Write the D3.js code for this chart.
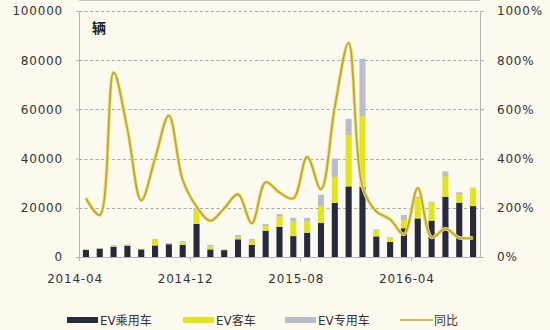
<!DOCTYPE html>
<html><head><meta charset="utf-8">
<script src="https://cdn.jsdelivr.net/npm/d3@7/dist/d3.min.js"></script>
<style>
html,body{margin:0;padding:0;background:#fcf9ef;}
svg{display:block;}
text{font-family:"DejaVu Sans",sans-serif;}
</style></head>
<body><svg id="c" width="550" height="330"></svg>
<script>
const months = ["2014-04","2014-05","2014-06","2014-07","2014-08","2014-09","2014-10","2014-11","2014-12",
"2015-01","2015-02","2015-03","2015-04","2015-05","2015-06","2015-07","2015-08","2015-09","2015-10","2015-11","2015-12",
"2016-01","2016-02","2016-03","2016-04","2016-05","2016-06","2016-07","2016-08"];
const passenger = [2900,3400,4200,4600,3100,4700,5200,4900,13500,3100,2800,7200,4900,10700,12300,8500,9900,13800,22000,28700,28500,8400,6100,11700,15700,14800,24500,22100,20700];
const bus       = [100,100,300,200,100,2300,200,1000,5700,1100,200,1000,1800,1900,4100,5900,4500,6800,10500,20800,28700,2300,1500,3300,8300,7300,8100,3500,7500];
const special   = [100,100,300,300,100,300,300,500,800,700,100,700,600,800,1100,1500,1500,4700,7500,6700,23400,500,400,2100,500,400,2200,700,0];
const yoy       = [239,171,750,520,230,400,575,313,205,147,198,255,137,304,262,238,407,275,610,870,286,185,153,92,280,80,115,78,78];
const leftTicks = [0,20000,40000,60000,80000,100000];
const rightTicks = [0,200,400,600,800,1000];
const xLabels = ["2014-04","2014-12","2015-08","2016-04"];
const seriesNames = ["EV乘用车","EV客车","EV专用车"];
const lineName = "同比";
const unitLabel = "辆";

const colors = ["#262a3a","#e2e41c","#b9bdc8"];
const lineColor = "#c2a634";

const L = 79, R = 480, T = 11, B = 257;
const svg = d3.select("#c");
const x = d3.scaleBand().domain(months).range([L,R]).paddingInner(0.56).paddingOuter(0.28);
const y = d3.scaleLinear().domain([0,100000]).range([B,T]);
const y2 = d3.scaleLinear().domain([0,1000]).range([B,T]);

// faint top frame line
svg.append("line").attr("x1",L).attr("x2",R).attr("y1",0.5).attr("y2",0.5).attr("stroke","#c8c8c8").attr("stroke-width",1);

// grid
svg.append("g").selectAll("line").data(leftTicks.slice(1)).join("line")
  .attr("x1",L).attr("x2",R+4).attr("y1",d=>Math.round(y(d))+0.5).attr("y2",d=>Math.round(y(d))+0.5)
  .attr("stroke","#a9a9a9").attr("stroke-dasharray","3,2.5").attr("stroke-width",1);

// axes
const ax = svg.append("g").attr("transform",`translate(${L},0)`).call(d3.axisLeft(y).tickValues(leftTicks).tickSize(3).tickPadding(13).tickFormat(d3.format("d")));
const ax2 = svg.append("g").attr("transform",`translate(${R},0)`).call(d3.axisRight(y2).tickValues(rightTicks).tickSize(4).tickPadding(13).tickFormat(d=>d+"%"));
[ax,ax2].forEach(a=>{
  a.select(".domain").attr("stroke","#b5b5b5");
  a.selectAll(".tick line").attr("stroke","#b5b5b5");
  a.selectAll("text").attr("font-size",12).attr("fill","#333").attr("letter-spacing","0.8px").style("font-family","DejaVu Sans");
});
// x axis
svg.append("line").attr("x1",L).attr("x2",R).attr("y1",B+0.5).attr("y2",B+0.5).attr("stroke","#b5b5b5");
const step = x.step();
const xg = svg.append("g");
xLabels.forEach(m=>{
  const bx = x(m) - (step - x.bandwidth())/2;
  xg.append("line").attr("x1",Math.round(bx)+0.5).attr("x2",Math.round(bx)+0.5).attr("y1",B).attr("y2",B+4).attr("stroke","#b5b5b5");
  xg.append("text").attr("x",bx-4).attr("y",283).attr("text-anchor","middle").attr("font-size",12)
    .attr("letter-spacing","0.8px").attr("fill","#333").text(m);
});

// stacked bars
const rows = months.map((m,i)=>({m, s0:passenger[i], s1:bus[i], s2:special[i]}));
const stack = d3.stack().keys(["s0","s1","s2"])(rows);
svg.append("g").selectAll("g").data(stack).join("g").attr("fill",(d,i)=>colors[i])
  .selectAll("rect").data(d=>d).join("rect")
  .attr("x",d=>x(d.data.m)).attr("width",x.bandwidth())
  .attr("y",d=>y(d[1])).attr("height",d=>y(d[0])-y(d[1]));

// line
const line = d3.line().x((d,i)=>x(months[i])+x.bandwidth()/2).y(d=>y2(d)).curve(d3.curveCatmullRom.alpha(0.5));
svg.append("path").attr("d",line(yoy)).attr("fill","none").attr("stroke","#ece47a").attr("stroke-width",3.6).attr("stroke-linejoin","round");
svg.append("path").attr("d",line(yoy)).attr("fill","none").attr("stroke",lineColor).attr("stroke-width",1.8).attr("stroke-linejoin","round");

// unit label
svg.append("text").attr("x",92).attr("y",33).attr("font-size",14).attr("font-weight","bold").attr("fill","#222")
  .style("font-family","Noto Sans CJK SC").text(unitLabel);

// legend
const lg = svg.append("g");
const legX = [67,183,285];
seriesNames.forEach((n,i)=>{
  lg.append("rect").attr("x",legX[i]).attr("y",317).attr("width",31).attr("height",6).attr("fill",colors[i]);
  lg.append("text").attr("x",legX[i]+33).attr("y",325).attr("font-size",12).attr("fill","#333")
    .style("font-family","DejaVu Sans, Noto Sans CJK SC").text(n);
});
lg.append("line").attr("x1",400).attr("x2",433).attr("y1",320).attr("y2",320).attr("stroke",lineColor).attr("stroke-width",1.5);
lg.append("text").attr("x",434).attr("y",325).attr("font-size",12).attr("fill","#333").style("font-family","Noto Sans CJK SC").text(lineName);
</script></body></html>
